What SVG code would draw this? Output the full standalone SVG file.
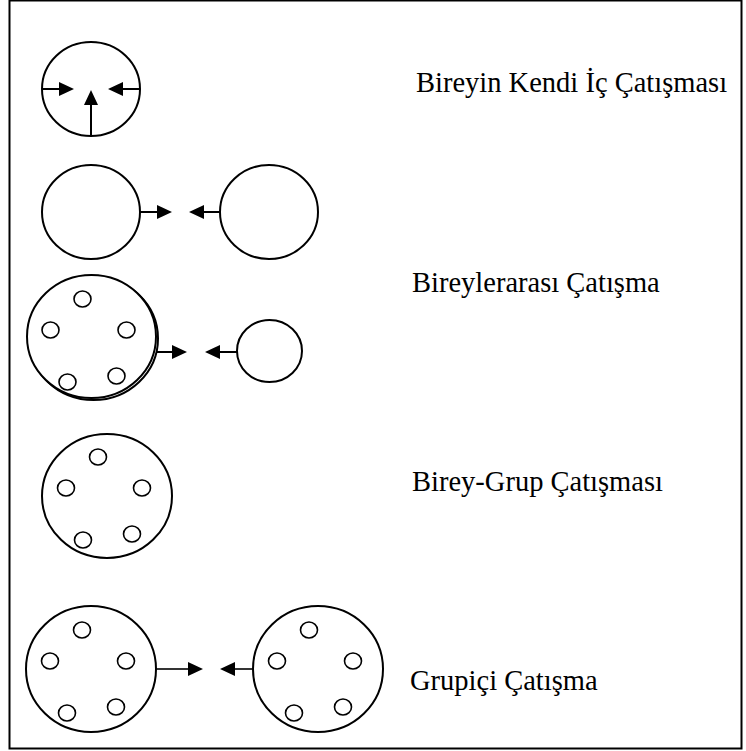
<svg xmlns="http://www.w3.org/2000/svg" width="746" height="751" viewBox="0 0 746 751">
  <style>
    .frame { fill: none; stroke: #000; stroke-width: 2; }
    .big { fill: #fff; stroke: #000; stroke-width: 2; }
    .member { fill: #fff; stroke: #000; stroke-width: 1.6; }
    .arrow { fill: none; stroke: #000; stroke-width: 2; marker-end: url(#head); }
    .label { font-family: "Liberation Serif", "Times New Roman", serif; font-size: 28.5px; fill: #000; }
  </style>
  <defs>
    <marker id="head" markerUnits="userSpaceOnUse" markerWidth="16" markerHeight="14" refX="0" refY="7" orient="auto" overflow="visible">
      <path d="M0,0 L15,7 L0,14 Z" fill="#000"/>
    </marker>
    <!-- a group: large ring with five members -->
    <g id="members-template">
      <ellipse cx="-9" cy="-39" rx="8.5" ry="8" class="member"/>
      <ellipse cx="-41" cy="-8" rx="8.5" ry="8" class="member"/>
      <ellipse cx="35" cy="-8" rx="8.5" ry="8" class="member"/>
      <ellipse cx="-24" cy="44" rx="8.5" ry="8" class="member"/>
      <ellipse cx="25" cy="38" rx="8.5" ry="8" class="member"/>
    </g>
  </defs>

  <rect x="9.5" y="0.5" width="732" height="748" class="frame"/>

  <!-- intrapersonal -->
  <g id="node-self">
    <ellipse cx="91" cy="89" rx="49" ry="47" class="big"/>
  </g>

  <!-- interpersonal -->
  <g id="node-person-a">
    <ellipse cx="91" cy="212" rx="49" ry="47" class="big"/>
  </g>
  <g id="node-person-b">
    <ellipse cx="269" cy="212" rx="49" ry="47" class="big"/>
  </g>

  <!-- individual vs group -->
  <g id="node-group-a">
    <ellipse cx="93.5" cy="338.5" rx="64.5" ry="61.5" class="big"/>
    <ellipse cx="91.5" cy="336.5" rx="64.5" ry="61.5" class="big"/>
    <use href="#members-template" x="91.5" y="338"/>
  </g>
  <g id="node-person-c">
    <ellipse cx="269.5" cy="351" rx="32.5" ry="31" class="big"/>
  </g>

  <!-- single group -->
  <g id="node-group-b">
    <ellipse cx="107" cy="496" rx="65" ry="62" class="big"/>
    <use href="#members-template" x="107" y="496"/>
  </g>

  <!-- two groups -->
  <g id="node-group-c">
    <ellipse cx="91" cy="669" rx="65" ry="63" class="big"/>
    <use href="#members-template" x="91" y="669"/>
  </g>
  <g id="node-group-d">
    <ellipse cx="318" cy="669" rx="65" ry="63" class="big"/>
    <use href="#members-template" x="318" y="669"/>
  </g>

  <g id="connectors">
    <line x1="42" y1="89" x2="59" y2="89" class="arrow"/>
    <line x1="140" y1="89" x2="123" y2="89" class="arrow"/>
    <line x1="91" y1="136" x2="91" y2="105" class="arrow"/>

    <line x1="140" y1="212" x2="157" y2="212" class="arrow"/>
    <line x1="220" y1="212" x2="204" y2="212" class="arrow"/>

    <line x1="156" y1="352" x2="172" y2="352" class="arrow"/>
    <line x1="237" y1="352" x2="220" y2="352" class="arrow"/>

    <line x1="156" y1="669" x2="188" y2="669" class="arrow" style="stroke-width:1.6"/>
    <line x1="253" y1="669" x2="235" y2="669" class="arrow" style="stroke-width:1.6"/>
  </g>

  <g id="labels">
    <text x="416" y="92" class="label">Bireyin Kendi İç Çatışması</text>
    <text x="412" y="292" class="label">Bireylerarası Çatışma</text>
    <text x="412" y="491" class="label">Birey-Grup Çatışması</text>
    <text x="410" y="690" class="label">Grupiçi Çatışma</text>
  </g>
</svg>
